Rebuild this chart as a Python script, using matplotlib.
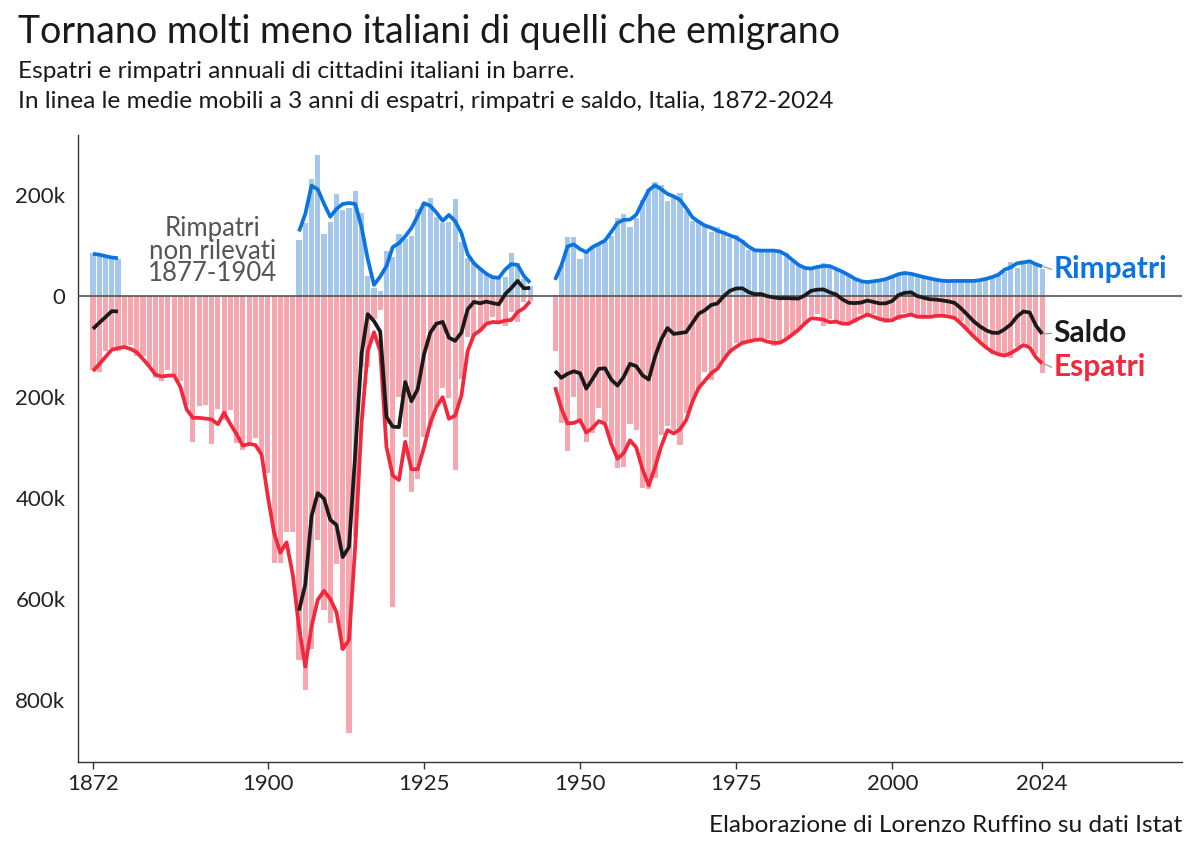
import numpy as np
import pandas as pd
import matplotlib
matplotlib.use("Agg")
import matplotlib.pyplot as plt
from matplotlib.ticker import FuncFormatter

plt.rcParams['font.family'] = ['Lato', 'DejaVu Sans']

years = list(range(1872, 2025))

N = None
rimpatri = ([86, 81, 79, 77, 73] + [N] * 28 +
            [111, 145, 232, 279, 123, 146, 202, 170, 175, 208,
             164, 40, 16, 10, 90, 78, 123, 113, 119, 172,
             185, 195, 157, 144, 146, 192, 107, 75, 67, 53,
             42, 37, 33, 38, 86, 66, 33, 20] + [N] * 3 +
            [3, 61, 117, 117, 73, 89, 99, 103, 108, 119,
             154, 162, 137, 155, 191, 212, 226, 220, 189, 198,
             205, 169, 149, 150, 142, 127, 137, 124, 115,
             121, 111, 92, 90, 90, 90, 90, 90, 85, 70,
             60, 55, 52, 56, 65, 58, 55, 48, 42, 35,
             26, 27, 30, 31, 32, 38, 45, 47, 45, 40,
             38, 35, 32, 30, 29, 30, 31, 29, 30, 31,
             33, 38, 42, 47, 68, 56, 71, 72, 64, 53])

espatri = ([146, 151, 108, 103, 108, 99, 96, 119, 119, 136,
            162, 169, 147, 157, 168, 216, 290, 218, 216, 294,
            223, 245, 225, 291, 305, 293, 281, 311, 350, 529,
            528, 468, 468,
            721, 781, 700, 483, 622, 647, 531, 701, 866, 477,
            141, 141, 46, 28, 253, 615, 199, 279, 388, 362,
            279, 260, 217, 183, 201, 345, 165, 81, 82, 67,
            56, 42, 56, 59, 31, 52, 12, 9] + [N] * 3 +
           [109, 252, 306, 199, 249, 290, 272, 222, 249, 288,
            341, 338, 254, 265, 381, 383, 361, 275, 257, 265,
            295, 232, 210, 185, 151, 167, 141, 124, 112,
            93, 97, 88, 85, 88, 85, 98, 95, 85, 77,
            67, 56, 40, 36, 59, 45, 52, 55, 57, 53,
            35, 39, 36, 48, 53, 43, 48, 33, 37, 40,
            46, 37, 41, 40, 36, 45, 50, 68, 82, 89,
            102, 114, 115, 117, 122, 100, 94, 97, 114, 153])

xtick_years = [1872, 1900, 1925, 1950, 1975, 2000, 2024]
ytick_vals = [200, 0, -200, -400, -600, -800]

df = pd.DataFrame({"year": years,
                   "rimpatri": pd.array(rimpatri, dtype="Float64").astype(float),
                   "espatri": pd.array(espatri, dtype="Float64").astype(float)})
df["saldo"] = df["rimpatri"] - df["espatri"]
roll = lambda s: s.rolling(3, center=True, min_periods=2).mean()
df["r_ma"] = roll(df["rimpatri"])
df["e_ma"] = roll(-df["espatri"])
df["s_ma"] = roll(df["saldo"])

BLUE_BAR = "#a6c7ec"
RED_BAR = "#f5a6ae"
BLUE = "#0b74e0"
RED = "#f2283c"
BLACK = "#1a1a1a"

fig = plt.figure(figsize=(12, 8.57), dpi=100)
ax = fig.add_axes([78 / 1200, (857 - 762) / 857, (1182 - 78) / 1200, (762 - 135) / 857])

ax.bar(df["year"], df["rimpatri"], width=0.82, color=BLUE_BAR, linewidth=0)
ax.bar(df["year"], -df["espatri"], width=0.82, color=RED_BAR, linewidth=0)
ax.axhline(0, color="#555555", lw=1.2, zorder=3)

ax.plot(df["year"], df["r_ma"], color=BLUE, lw=2.7, zorder=4, solid_capstyle="butt")
ax.plot(df["year"], df["e_ma"], color=RED, lw=2.7, zorder=4, solid_capstyle="butt")
ax.plot(df["year"], df["s_ma"], color=BLACK, lw=2.7, zorder=5, solid_capstyle="butt")

ax.set_xlim(1869.6, 2046.4)
ax.set_ylim(-923, 319)

ax.set_yticks(ytick_vals)
ax.yaxis.set_major_formatter(FuncFormatter(lambda v, p: "0" if v == 0 else f"{abs(int(v))}k"))
ax.set_xticks(xtick_years)
ax.set_xticklabels([str(y) for y in xtick_years])
ax.tick_params(axis="y", length=0, pad=9, labelsize=16, labelcolor="#222222")
ax.tick_params(axis="x", length=5, width=1, pad=4, labelsize=16, labelcolor="#222222", color="#333333")

for s in ["top", "right"]:
    ax.spines[s].set_visible(False)
for s in ["left", "bottom"]:
    ax.spines[s].set_color("#333333")
    ax.spines[s].set_linewidth(1)

# end labels
last = df.iloc[-1]
lab_x = 2025.8
labels = [("Rimpatri", last["r_ma"], 53, BLUE),
          ("Saldo", last["s_ma"], -74, BLACK),
          ("Espatri", last["e_ma"], -141, RED)]
for txt, yv, ty, col in labels:
    ax.plot([2024.2, 2025.5], [yv, ty], color="#999999", lw=0.9, zorder=2)
    ax.text(lab_x, ty, txt, color=col, fontsize=21.5, fontweight="bold", ha="left", va="center")

ax.text(1891.2, 89, "Rimpatri\nnon rilevati\n1877-1904", ha="center", va="center",
        fontsize=18.5, color="#555555", linespacing=0.88)

fig.text(18 / 1200, 1 - 32 / 857, "Tornano molti meno italiani di quelli che emigrano",
         fontsize=27, color="#1a1a1a", ha="left", va="center")
fig.text(18 / 1200, 1 - 72 / 857, "Espatri e rimpatri annuali di cittadini italiani in barre.",
         fontsize=17.6, color="#1a1a1a", ha="left", va="center")
fig.text(18 / 1200, 1 - 101 / 857,
         "In linea le medie mobili a 3 anni di espatri, rimpatri e saldo, Italia, 1872-2024",
         fontsize=17.6, color="#1a1a1a", ha="left", va="center")
fig.text(1182 / 1200, 1 - 826 / 857, "Elaborazione di Lorenzo Ruffino su dati Istat",
         fontsize=17.6, color="#1a1a1a", ha="right", va="center")

fig.savefig("out.png", dpi=100)
